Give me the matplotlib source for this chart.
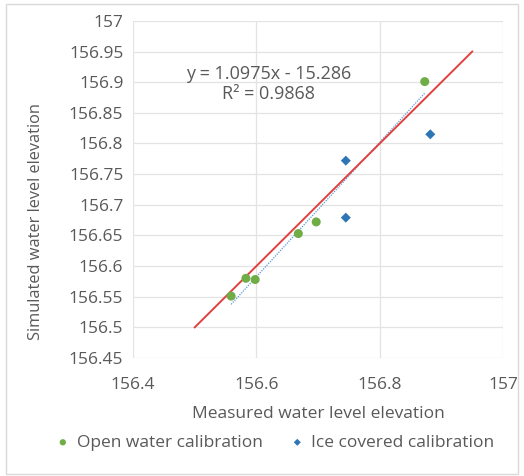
import matplotlib.pyplot as plt
import numpy as np
from matplotlib.patches import Rectangle

# measured vs simulated water level elevation
open_measured = [156.559, 156.583, 156.598, 156.668, 156.697, 156.873]
open_simulated = [156.551, 156.580, 156.578, 156.653, 156.672, 156.901]

ice_measured = [156.745, 156.745, 156.882]
ice_simulated = [156.772, 156.679, 156.815]

one_to_one = [156.5, 156.95]

trend_slope = 1.0975
trend_intercept = -15.286
trend_label = "y = 1.0975x - 15.286\nR² = 0.9868"

x_ticks = [156.4, 156.6, 156.8, 157.0]
x_tick_labels = ["156.4", "156.6", "156.8", "157"]
y_ticks = [156.45, 156.5, 156.55, 156.6, 156.65, 156.7, 156.75,
           156.8, 156.85, 156.9, 156.95, 157.0]
y_tick_labels = ["156.45", "156.5", "156.55", "156.6", "156.65", "156.7",
                 "156.75", "156.8", "156.85", "156.9", "156.95", "157"]

plt.rcParams["font.family"] = ["Open Sans", "DejaVu Sans"]

text_color = "#595959"
green = "#70AD47"
blue = "#2E75B6"

fig = plt.figure(figsize=(5.24, 4.76), dpi=100)

# chart area border
fig.patches.append(
    Rectangle((0.012, 0.004), 0.976, 0.988, transform=fig.transFigure,
              fill=False, edgecolor="#d9d9d9", linewidth=1.0)
)

ax = fig.add_axes([0.254, 0.248, 0.706, 0.708])

# trendline of open water points
trend_x = np.array([min(open_measured), max(open_measured)])
trend_y = trend_slope * trend_x + trend_intercept
ax.plot(trend_x, trend_y, linestyle=(0, (1, 1)), color="#5B9BD5",
        linewidth=0.9, zorder=2)

ax.plot(one_to_one, one_to_one, color="#E0403F", linewidth=1.4, zorder=3)

ax.scatter(open_measured, open_simulated, s=42, color=green,
           label="Open water calibration", zorder=4, edgecolors="none")
ax.scatter(ice_measured, ice_simulated, s=26, color=blue, marker="D",
           label="Ice covered calibration", zorder=4, edgecolors="none")

ax.text(156.62, 156.897, trend_label, ha="center", va="center",
        fontsize=13, color=text_color, linespacing=1.1)

ax.set_xlim(156.4, 157.0)
ax.set_ylim(156.45, 157.0)
ax.set_xticks(x_ticks)
ax.set_xticklabels(x_tick_labels)
ax.set_yticks(y_ticks)
ax.set_yticklabels(y_tick_labels)

ax.tick_params(length=0, labelsize=12.5, colors=text_color)
ax.tick_params(axis="x", pad=14)
ax.tick_params(axis="y", pad=7)
ax.grid(True, color="#e3e3e3", linewidth=0.9)
ax.set_axisbelow(True)
for spine in ax.spines.values():
    spine.set_visible(False)

ax.set_xlabel("Measured water level elevation", fontsize=12.5,
              color=text_color, labelpad=9)
ax.set_ylabel("Simulated water level elevation", fontsize=11.8,
              color=text_color)
ax.yaxis.set_label_coords(-0.24, 0.404)

fig.legend(loc="lower center", bbox_to_anchor=(0.525, 0.02), ncol=2,
           frameon=False, fontsize=12.5, labelcolor=text_color,
           handlelength=0.8, handletextpad=0.4, columnspacing=1.6,
           markerscale=0.7)

fig.savefig("out.png", dpi=100)
